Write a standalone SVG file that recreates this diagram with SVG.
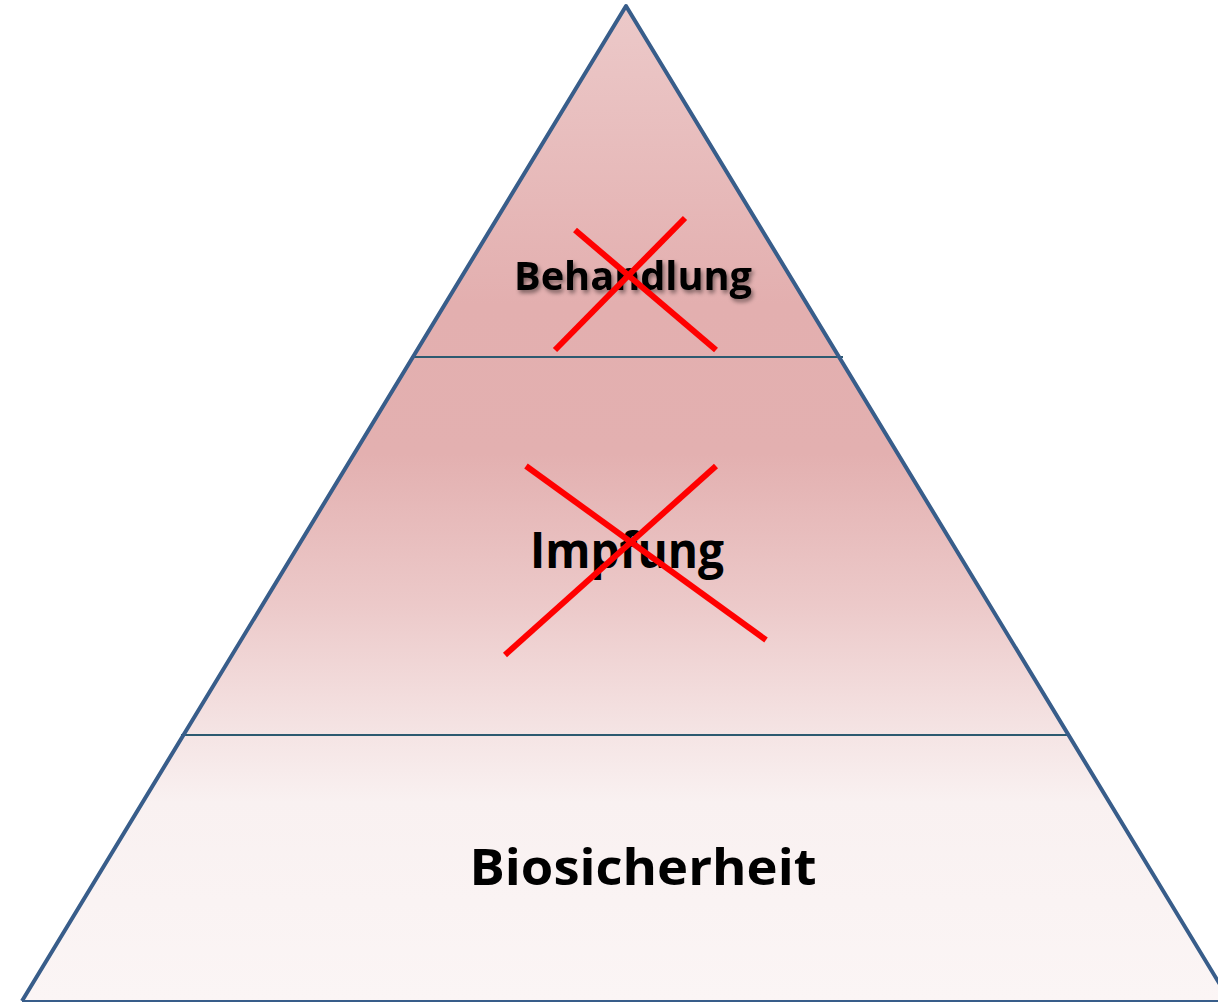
<svg xmlns="http://www.w3.org/2000/svg" width="1218" height="1003" viewBox="0 0 1218 1003">
<style>
.lbl{font-family:"Open Sans","Liberation Sans",sans-serif;font-weight:bold;fill:#000;text-anchor:middle}
.edge{fill:none;stroke:#385d8a;stroke-width:4;stroke-linejoin:round}
.div{stroke:#2c5a70;stroke-width:2}
.cross{stroke:#ff0000;stroke-width:6;stroke-linecap:butt}
</style>
<defs>
<linearGradient id="g" x1="0" y1="6" x2="0" y2="1001" gradientUnits="userSpaceOnUse">
<stop offset="0" stop-color="#ecc9c9"/>
<stop offset="0.3" stop-color="#e3afaf"/>
<stop offset="0.45" stop-color="#e3b0b0"/>
<stop offset="0.6" stop-color="#ecc9c9"/>
<stop offset="0.72" stop-color="#f4e2e2"/>
<stop offset="0.8" stop-color="#f9f1f1"/>
<stop offset="1" stop-color="#fbf5f5"/>
</linearGradient>
<filter id="sh" x="-10%" y="-30%" width="120%" height="160%">
<feDropShadow dx="2" dy="3" stdDeviation="2" flood-color="#000" flood-opacity="0.45"/>
</filter>
</defs>
<g id="pyramid">
<polygon points="626,6 22,1001 1230,1001" fill="url(#g)"/>
</g>
<g id="connectors">
<line class="div" x1="411" y1="357" x2="843" y2="357"/>
<line class="div" x1="181" y1="735" x2="1070" y2="735"/>
<line x1="22" y1="1001" x2="1230" y2="1001" stroke="#385d8a" stroke-width="2"/>
<polyline class="edge" points="22,1001 626,6 1230,1001"/>
</g>
<g id="node-behandlung">
<text class="lbl" x="633" y="290" font-size="40" textLength="238" lengthAdjust="spacingAndGlyphs" filter="url(#sh)">Behandlung</text>
<line class="cross" x1="575" y1="230" x2="716" y2="350"/>
<line class="cross" x1="685" y1="218" x2="555" y2="350"/>
</g>
<g id="node-impfung">
<text class="lbl" x="627" y="568" font-size="50" textLength="194" lengthAdjust="spacingAndGlyphs">Impfung</text>
<line class="cross" x1="526" y1="466" x2="766" y2="640"/>
<line class="cross" x1="716" y1="466" x2="505" y2="655"/>
</g>
<g id="node-biosicherheit">
<text class="lbl" x="643" y="885" font-size="50" textLength="347" lengthAdjust="spacingAndGlyphs">Biosicherheit</text>
</g>
</svg>
